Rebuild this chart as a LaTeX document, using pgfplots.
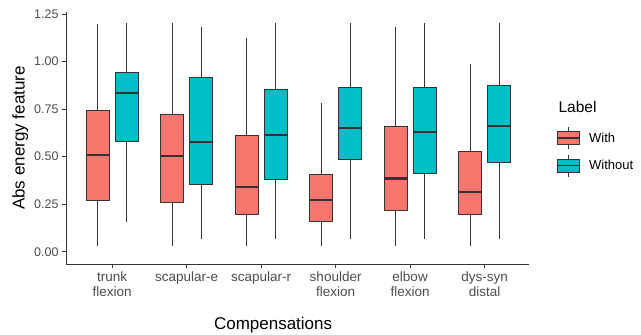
\documentclass[border=0pt]{standalone}
\usepackage{fontspec}
\setmainfont{Liberation Sans}
\usepackage{pgfplots}
\pgfplotsset{compat=1.18}
\usepgfplotslibrary{statistics}
\definecolor{withc}{HTML}{F8766D}
\definecolor{woc}{HTML}{00BFC4}
\definecolor{g20}{HTML}{333333}
\definecolor{g30}{HTML}{4D4D4D}
\pgfplotsset{
  bxw/.style={fill=withc, draw=g20, line width=0.8pt, forget plot},
  bxo/.style={fill=woc, draw=g20, line width=0.8pt, forget plot},
}
\begin{document}
\begin{tikzpicture}
\path[use as bounding box] (0,0) rectangle (641pt,335pt);
\begin{axis}[
  at={(66pt,70.7pt)}, anchor=south west,
  scale only axis, width=463.3pt, height=252.6pt,
  xmin=0.38, xmax=6.6, ymin=-0.066, ymax=1.262,
  axis x line*=bottom, axis y line*=left,
  axis line style={g20, line width=0.8pt, -},
  tick align=outside, major tick length=4pt,
  tick style={g20, line width=0.8pt},
  xtick={1,2,3,4,5,6},
  xticklabels={{trunk\\flexion},{scapular-e},{scapular-r},{shoulder\\flexion},{elbow\\flexion},{dys-syn\\distal}},
  xticklabel style={align=center, font=\fontsize{13.5}{14.5}\selectfont, text=g30},
  ytick={0,0.25,0.5,0.75,1,1.25},
  yticklabel style={/pgf/number format/fixed, /pgf/number format/fixed zerofill, /pgf/number format/precision=2, /pgf/number format/assume math mode=true, font=\fontsize{12.5}{14}\selectfont, text=g30},
  xlabel={Compensations},
  ylabel={Abs energy feature},
  xlabel style={font=\fontsize{17}{19}\selectfont, at={(axis description cs:0.447,-0.26)}, anchor=base},
  ylabel style={font=\fontsize{17}{19}\selectfont, at={(axis description cs:-0.099,0.5)}, anchor=center},
  clip=false,
  boxplot/draw direction=y,
  boxplot/every median/.style={line width=2.2pt},
  legend style={draw=none, fill=none, at={(axis description cs:1.058,0.545)}, anchor=north west, font=\fontsize{13}{15}\selectfont, row sep=4.5pt, inner sep=0pt},
  legend cell align=left,
]
% trunk flexion
\addplot[bxw, boxplot prepared={draw position=0.805, lower whisker=0.032, lower quartile=0.270, median=0.508, upper quartile=0.741, upper whisker=1.197, box extend=0.31, whisker extend=0}] coordinates {};
\addplot[bxo, boxplot prepared={draw position=1.195, lower whisker=0.158, lower quartile=0.580, median=0.833, upper quartile=0.941, upper whisker=1.201, box extend=0.31, whisker extend=0}] coordinates {};
% scapular-e
\addplot[bxw, boxplot prepared={draw position=1.805, lower whisker=0.032, lower quartile=0.258, median=0.503, upper quartile=0.722, upper whisker=1.201, box extend=0.31, whisker extend=0}] coordinates {};
\addplot[bxo, boxplot prepared={draw position=2.195, lower whisker=0.068, lower quartile=0.352, median=0.577, upper quartile=0.917, upper whisker=1.183, box extend=0.31, whisker extend=0}] coordinates {};
% scapular-r
\addplot[bxw, boxplot prepared={draw position=2.805, lower whisker=0.032, lower quartile=0.195, median=0.342, upper quartile=0.612, upper whisker=1.122, box extend=0.31, whisker extend=0}] coordinates {};
\addplot[bxo, boxplot prepared={draw position=3.195, lower whisker=0.065, lower quartile=0.381, median=0.615, upper quartile=0.854, upper whisker=1.201, box extend=0.31, whisker extend=0}] coordinates {};
% shoulder flexion
\addplot[bxw, boxplot prepared={draw position=3.805, lower whisker=0.032, lower quartile=0.160, median=0.273, upper quartile=0.409, upper whisker=0.780, box extend=0.31, whisker extend=0}] coordinates {};
\addplot[bxo, boxplot prepared={draw position=4.195, lower whisker=0.068, lower quartile=0.487, median=0.652, upper quartile=0.866, upper whisker=1.201, box extend=0.31, whisker extend=0}] coordinates {};
% elbow flexion
\addplot[bxw, boxplot prepared={draw position=4.805, lower whisker=0.032, lower quartile=0.216, median=0.385, upper quartile=0.661, upper whisker=1.183, box extend=0.31, whisker extend=0}] coordinates {};
\addplot[bxo, boxplot prepared={draw position=5.195, lower whisker=0.068, lower quartile=0.412, median=0.628, upper quartile=0.866, upper whisker=1.201, box extend=0.31, whisker extend=0}] coordinates {};
% dys-syn distal
\addplot[bxw, boxplot prepared={draw position=5.805, lower whisker=0.032, lower quartile=0.197, median=0.312, upper quartile=0.529, upper whisker=0.985, box extend=0.31, whisker extend=0}] coordinates {};
\addplot[bxo, boxplot prepared={draw position=6.195, lower whisker=0.065, lower quartile=0.468, median=0.662, upper quartile=0.876, upper whisker=1.201, box extend=0.31, whisker extend=0}] coordinates {};
% legend
\addlegendimage{legend image code/.code={
  \path[draw=none, fill=none] (0pt,0pt) rectangle (30pt,0.1pt);
  \draw[g20, line width=0.8pt] (11.3pt,-11pt)--(11.3pt,11pt);
  \draw[g20, line width=0.8pt, fill=withc] (0pt,-6.6pt) rectangle (22.6pt,6.6pt);
  \draw[g20, line width=1.6pt] (0pt,0pt)--(22.6pt,0pt);
}}
\addlegendentry{With}
\addlegendimage{legend image code/.code={
  \path[draw=none, fill=none] (0pt,0pt) rectangle (30pt,0.1pt);
  \draw[g20, line width=0.8pt] (11.3pt,-11pt)--(11.3pt,11pt);
  \draw[g20, line width=0.8pt, fill=woc] (0pt,-6.6pt) rectangle (22.6pt,6.6pt);
  \draw[g20, line width=1.6pt] (0pt,0pt)--(22.6pt,0pt);
}}
\addlegendentry{Without}
\node[anchor=base west, font=\fontsize{15.5}{17}\selectfont] at (axis description cs:1.0555,0.599) {Label};
\end{axis}
\end{tikzpicture}
\end{document}
